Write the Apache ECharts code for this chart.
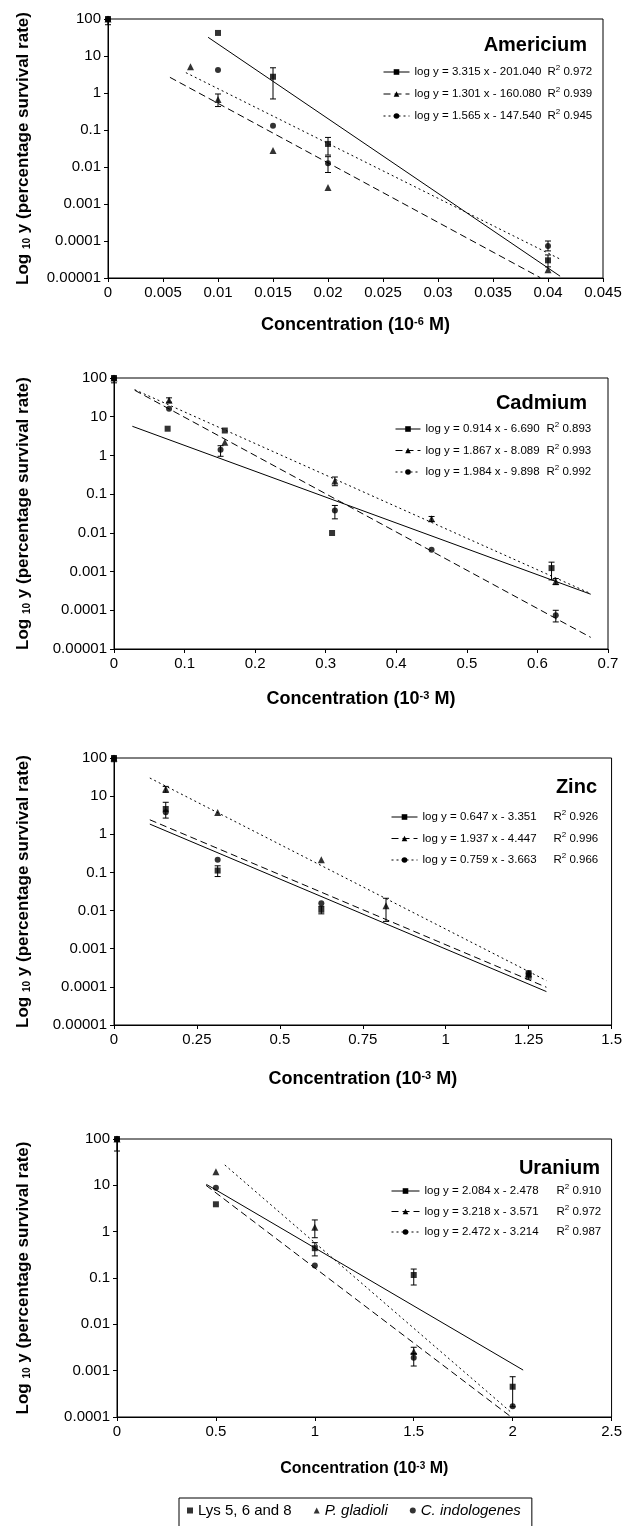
<!DOCTYPE html>
<html><head><meta charset="utf-8">
<script src="https://cdn.jsdelivr.net/npm/echarts@6/dist/echarts.min.js"></script>
<style>html,body{margin:0;padding:0;background:#fff}#c{width:625px;height:1526px}</style>
</head><body><div id="c"></div><script>
// ---------- data ----------
const speciesNames = ['Lys 5, 6 and 8', 'P. gladioli', 'C. indologenes'];
const yTicks5 = ['0.00001','0.0001','0.001','0.01','0.1','1','10','100'];
const yTicks4 = ['0.0001','0.001','0.01','0.1','1','10','100'];

// Americium
const amXTicks = ['0','0.005','0.01','0.015','0.02','0.025','0.03','0.035','0.04','0.045'];
const amLys = [[0,100],[0.01,42],[0.015,2.75],[0.02,0.042],[0.04,0.00003]];
const amPg  = [[0,100],[0.0075,5.1],[0.01,0.67],[0.015,0.028],[0.02,0.0028],[0.04,0.0000166]];
const amCi  = [[0,100],[0.01,4.2],[0.015,0.13],[0.02,0.0126],[0.04,0.000073]];
const amErr = [[0,70,100],[0.015,0.69,4.8],[0.01,0.43,0.94],[0.02,0.021,0.063],[0.02,0.0071,0.019],[0.04,0.000054,0.0001],[0.04,0.00002,0.000042]];
const amLysFit = [[0.0091,32],[0.0411,0.0000112]];
const amPgFit  = [[0.00563,2.65],[0.0393,0.0000102]];
const amCiFit  = [[0.00708,3.55],[0.0411,0.0000324]];
const amEq = ['log y = 3.315 x - 201.040','log y = 1.301 x - 160.080','log y = 1.565 x - 147.540'];
const amR2 = ['0.972','0.939','0.945'];

// Cadmium
const cdXTicks = ['0','0.1','0.2','0.3','0.4','0.5','0.6','0.7'];
const cdLys = [[0,100],[0.076,4.9],[0.157,4.4],[0.309,0.0099],[0.62,0.00123]];
const cdPg  = [[0,100],[0.078,26.6],[0.157,2.2],[0.313,0.22],[0.45,0.023],[0.626,0.00055]];
const cdCi  = [[0,100],[0.078,16],[0.151,1.41],[0.313,0.038],[0.45,0.00365],[0.626,0.000074]];
const cdErr = [[0,75,100],[0.078,23.7,30.7],[0.151,0.95,1.78],[0.313,0.165,0.277],[0.313,0.023,0.051],[0.45,0.0197,0.0265],[0.62,0.00061,0.00175],[0.626,0.00046,0.00066],[0.626,0.00005,0.0001]];
const cdLysFit = [[0.026,5.66],[0.6755,0.00026]];
const cdPgFit  = [[0.0293,50],[0.6755,0.00027]];
const cdCiFit  = [[0.0293,48.3],[0.6755,0.00002]];
const cdEq = ['log y = 0.914 x - 6.690','log y = 1.867 x - 8.089','log y = 1.984 x - 9.898'];
const cdR2 = ['0.893','0.993','0.992'];

// Zinc
const znXTicks = ['0','0.25','0.5','0.75','1','1.25','1.5'];
const znLys = [[0,100],[0.156,4.6],[0.3125,0.112],[0.625,0.0105],[1.25,0.0002]];
const znPg  = [[0,100],[0.156,15.4],[0.3125,3.75],[0.625,0.215],[0.82,0.0133],[1.25,0.00022]];
const znCi  = [[0,100],[0.156,3.8],[0.3125,0.215],[0.625,0.0156],[1.25,0.00023]];
const znErr = [[0,80,100],[0.156,12.6,18],[0.156,2.66,6.9],[0.3125,0.078,0.149],[0.625,0.0082,0.0129],[0.82,0.0052,0.021],[1.25,0.00016,0.00026]];
const znLysFit = [[0.108,1.85],[1.3036,0.0000752]];
const znPgFit  = [[0.108,29.9],[1.3036,0.000146]];
const znCiFit  = [[0.108,2.4],[1.3036,0.0000977]];
const znEq = ['log y = 0.647 x - 3.351','log y = 1.937 x - 4.447','log y = 0.759 x - 3.663'];
const znR2 = ['0.926','0.996','0.966'];

// Uranium
const uXTicks = ['0','0.5','1','1.5','2','2.5'];
const uLys = [[0,100],[0.5,3.9],[1,0.44],[1.5,0.116],[2,0.00045]];
const uPg  = [[0,100],[0.5,19.7],[1,1.24],[1.5,0.0026]];
const uCi  = [[0,100],[0.5,8.9],[1,0.185],[1.5,0.0019],[2,0.00017]];
const uErr = [[0,55,100],[1,0.74,1.79],[1,0.30,0.58],[1.5,0.0706,0.156],[1.5,0.0023,0.0032],[1.5,0.00126,0.00237],[2,0.000166,0.00074]];
const uLysFit = [[0.4517,10.5],[2.053,0.00103]];
const uPgFit  = [[0.545,27.5],[1.998,0.00012]];
const uCiFit  = [[0.45,10],[1.99,0.000102]];
const uEq = ['log y = 2.084 x - 2.478','log y = 3.218 x - 3.571','log y = 2.472 x - 3.214'];
const uR2 = ['0.910','0.972','0.987'];

// ---------- layout / style ----------
const FF = "'Liberation Sans', Arial, Helvetica, sans-serif";
const dash = {solid:'solid', dashed:[7,4], dotted:[2,3]};
const legendStyles = ['solid','dashed','dotted'];
const syms = ['rect','triangle','circle'];
const symSize = [6,7,6];

const panels = [
  {title:'Americium', unit:'-6', xTicks:amXTicks, yTicks:yTicks5, pts:[amLys,amPg,amCi], err:amErr,
   fits:[amLysFit,amPgFit,amCiFit], fitStyle:['solid','dashed','dotted'], eq:amEq, r2:amR2,
   grid:{left:108,top:19,width:495,height:259}, tpos:{right:38,top:35},
   leg:{left:383,top:64,iw:26,eqW:133,gap:8}, xGap:38, xSize:18},
  {title:'Cadmium', unit:'-3', xTicks:cdXTicks, yTicks:yTicks5, pts:[cdLys,cdPg,cdCi], err:cdErr,
   fits:[cdLysFit,cdPgFit,cdCiFit], fitStyle:['solid','dotted','dashed'], eq:cdEq, r2:cdR2,
   grid:{left:114,top:378,width:494,height:271}, tpos:{right:38,top:393},
   leg:{left:395,top:421,iw:25,eqW:121,gap:7.5}, xGap:41, xSize:18},
  {title:'Zinc', unit:'-3', xTicks:znXTicks, yTicks:yTicks5, pts:[znLys,znPg,znCi], err:znErr,
   fits:[znLysFit,znPgFit,znCiFit], fitStyle:['solid','dotted','dashed'], eq:znEq, r2:znR2,
   grid:{left:114,top:758,width:502,height:267}, tpos:{right:28,top:777},
   leg:{left:391,top:809,iw:26,eqW:131,gap:7.5}, xGap:45, xSize:18},
  {title:'Uranium', unit:'-3', xTicks:uXTicks, yTicks:yTicks4, pts:[uLys,uPg,uCi], err:uErr,
   fits:[uLysFit,uPgFit,uCiFit], fitStyle:['solid','dotted','dashed'], eq:uEq, r2:uR2,
   grid:{left:117,top:1139,width:500,height:278}, tpos:{right:25,top:1158},
   leg:{left:391,top:1183,iw:28,eqW:132,gap:6.5}, xGap:44, xSize:16}
];

const chart = echarts.init(document.getElementById('c'), null, {renderer:'canvas'});

const grid = [], xAxis = [], yAxis = [], series = [], legend = [], title = [];

panels.forEach((p, i) => {
  grid.push(Object.assign({show:true, borderColor:'#000', borderWidth:1, backgroundColor:'transparent'}, p.grid));
  const xMax = parseFloat(p.xTicks[p.xTicks.length-1]);
  const xInt = parseFloat(p.xTicks[1]);
  const yMin = parseFloat(p.yTicks[0]);
  const yMax = parseFloat(p.yTicks[p.yTicks.length-1]);
  const yMinExp = Math.round(Math.log10(yMin));
  xAxis.push({
    gridIndex:i, type:'value', min:0, max:xMax, interval:xInt,
    name:'Concentration (10{sup|' + p.unit + '} M)', nameLocation:'middle', nameGap:p.xGap,
    nameTextStyle:{fontSize:p.xSize, fontWeight:'bold', color:'#000', fontFamily:FF,
      rich:{sup:{fontSize:Math.round(p.xSize*0.6), fontWeight:'bold', color:'#000', fontFamily:FF, verticalAlign:'top'}}},
    axisLine:{show:true, onZero:false, lineStyle:{color:'#000', width:1}},
    axisTick:{show:true, length:4, lineStyle:{color:'#000'}},
    splitLine:{show:false},
    axisLabel:{fontSize:15, color:'#000', margin:7, fontFamily:FF,
      formatter: v => p.xTicks[Math.round(v / xInt)]}
  });
  yAxis.push({
    gridIndex:i, type:'log', logBase:10, min:yMin, max:yMax,
    name:'Log {sub|10} y (percentage survival rate)', nameLocation:'middle', nameGap:p.grid.left - 32,
    nameTextStyle:{fontSize:17, fontWeight:'bold', color:'#000', fontFamily:FF,
      rich:{sub:{fontSize:10, fontWeight:'bold', color:'#000', fontFamily:FF, verticalAlign:'bottom'}}},
    axisLine:{show:true, lineStyle:{color:'#000', width:1}},
    axisTick:{show:true, length:4, lineStyle:{color:'#000'}},
    splitLine:{show:false},
    axisLabel:{fontSize:15, color:'#000', margin:7, fontFamily:FF,
      formatter: v => p.yTicks[Math.round(Math.log10(v)) - yMinExp]}
  });
  title.push({text:p.title, right:p.tpos.right, top:p.tpos.top, padding:0,
    textStyle:{fontSize:20, fontWeight:'bold', color:'#000', fontFamily:FF}});

  // trend lines
  p.fits.forEach((f, k) => {
    series.push({type:'line', name:p.eq[k], xAxisIndex:i, yAxisIndex:i, data:f,
      showSymbol:false, symbol:syms[k], symbolSize:6, silent:true, z:2,
      itemStyle:{color:'#000'},
      lineStyle:{color:'#000', width:1, type:dash[p.fitStyle[k]]}});
  });
  // error bars
  series.push({type:'custom', xAxisIndex:i, yAxisIndex:i, data:p.err, silent:true, z:3,
    encode:{x:0, y:[1,2]},
    renderItem:(params, api) => {
      const x = api.value(0), lo = api.value(1), hi = api.value(2);
      const a = api.coord([x, lo]), b = api.coord([x, hi]);
      const c = 3, st = {stroke:'#000', lineWidth:1};
      return {type:'group', children:[
        {type:'line', shape:{x1:a[0], y1:a[1], x2:b[0], y2:b[1]}, style:st},
        {type:'line', shape:{x1:a[0]-c, y1:a[1], x2:a[0]+c, y2:a[1]}, style:st},
        {type:'line', shape:{x1:b[0]-c, y1:b[1], x2:b[0]+c, y2:b[1]}, style:st}
      ]};
    }});
  // data points
  p.pts.forEach((d, k) => {
    series.push({type:'scatter', name:speciesNames[k], xAxisIndex:i, yAxisIndex:i, data:d,
      symbol:syms[k], symbolSize:symSize[k], itemStyle:{color:'#000'}, z:4});
  });
  // panel legend
  legend.push({
    orient:'vertical', left:p.leg.left, top:p.leg.top, padding:0, itemGap:p.leg.gap,
    itemWidth:p.leg.iw, itemHeight:7, selectedMode:false,
    data:p.eq.map((n, k) => ({name:n, itemStyle:{color:'#000'},
      lineStyle:{color:'#000', width:1, type:dash[legendStyles[k]]}})),
    formatter: name => {
      const k = p.eq.indexOf(name);
      return '{e|' + name + '}{r|R}{s|2}{r| ' + p.r2[k] + '}';
    },
    textStyle:{fontSize:11.5, color:'#000', fontFamily:FF,
      rich:{
        e:{width:p.leg.eqW, fontSize:11.5, color:'#000', fontFamily:FF, lineHeight:16},
        r:{fontSize:11.5, color:'#000', fontFamily:FF, lineHeight:16},
        s:{fontSize:8, color:'#000', fontFamily:FF, lineHeight:16, verticalAlign:'top'}
      }}
  });
});

// bottom species legend
legend.push({
  orient:'horizontal', left:179, top:1498, padding:[5,11,10,8],
  borderColor:'#000', borderWidth:1, itemWidth:6, itemHeight:6, itemGap:22, selectedMode:false,
  data:speciesNames,
  formatter: n => n === speciesNames[0] ? n : '{i|' + n + '}',
  textStyle:{fontSize:15, color:'#000', fontFamily:FF,
    rich:{i:{fontSize:15, fontStyle:'italic', color:'#000', fontFamily:FF}}}
});

chart.setOption({animation:false, backgroundColor:'#fff', title, grid, xAxis, yAxis, legend, series});
</script></body></html>
